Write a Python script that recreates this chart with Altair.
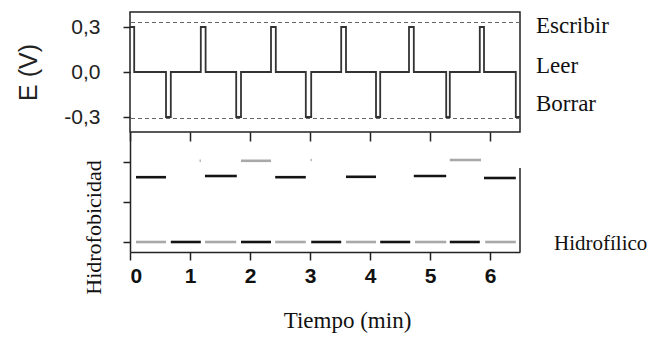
import altair as alt
import pandas as pd

# ---------------- data ----------------
# Applied potential E (V) vs time (min): breakpoints of the step signal
signal_time = [0.00, 0.07, 0.60, 0.68, 1.18, 1.26, 1.77, 1.85, 2.35, 2.43, 2.93, 3.02,
               3.52, 3.60, 4.10, 4.17, 4.65, 4.73, 5.27, 5.33, 5.83, 5.90, 6.43, 6.50]
signal_e = [0.3, 0.0, -0.3, 0.0, 0.3, 0.0, -0.3, 0.0, 0.3, 0.0, -0.3, 0.0,
            0.3, 0.0, -0.3, 0.0, 0.3, 0.0, -0.3, 0.0, 0.3, 0.0, -0.3, -0.3]
limit_levels = [0.33, -0.31]

state_names = ["Escribir", "Leer", "Borrar"]
state_levels = [0.3, 0.0, -0.3]

# Hydrophobicity read-out segments (time intervals in min, level in a.u.)
low_level = 0.0
light_low_start = [0.10, 1.25, 2.42, 3.60, 4.75, 5.92]
light_low_end = [0.60, 1.77, 2.93, 4.10, 5.27, 6.43]
dark_low_start = [0.68, 1.85, 3.02, 4.17, 5.33]
dark_low_end = [1.18, 2.35, 3.52, 4.67, 5.83]
dark_high_start = [0.10, 1.25, 2.42, 3.60, 4.73, 5.90]
dark_high_end = [0.60, 1.78, 2.93, 4.10, 5.27, 6.43]
dark_high_level = [1.62, 1.65, 1.62, 1.63, 1.65, 1.60]
light_high_start = [1.16, 1.85, 3.01, 5.33]
light_high_end = [1.18, 2.35, 3.03, 5.85]
light_high_level = [2.03, 2.03, 2.05, 2.05]

x_tick_values = [0, 0.5, 1, 1.5, 2, 2.5, 3, 3.5, 4, 4.5, 5, 5.5, 6, 6.5]
x_mid_tick_values = [0, 0.5, 1, 1.5, 2, 2.5, 3, 3.5, 4, 4.5, 5, 5.5, 6]
e_tick_values = [-0.3, -0.15, 0, 0.15, 0.3]
h_tick_values = [0, 0.5, 1, 1.5, 2, 2.5]

# ---------------- frames ----------------
sig_df = pd.DataFrame({"t": signal_time, "E": signal_e})
lim_df = pd.DataFrame({"lim": limit_levels})
states_df = pd.DataFrame({"state": state_names, "level": state_levels})

rows = []
for s, e in zip(light_low_start, light_low_end):
    rows.append({"start": s, "end": e, "level": low_level, "tone": "claro"})
for s, e in zip(dark_low_start, dark_low_end):
    rows.append({"start": s, "end": e, "level": low_level, "tone": "oscuro"})
for s, e, l in zip(dark_high_start, dark_high_end, dark_high_level):
    rows.append({"start": s, "end": e, "level": l, "tone": "oscuro"})
for s, e, l in zip(light_high_start, light_high_end, light_high_level):
    rows.append({"start": s, "end": e, "level": l, "tone": "claro"})
seg_df = pd.DataFrame(rows)
edge_df = pd.DataFrame({"edge": [6.5]})

INK = "#222222"
SANS = "Liberation Sans, Arial, Helvetica, sans-serif"
SERIF = "'Liberation Serif', 'Times New Roman', 'DejaVu Serif', serif"
W, H = 390, 120

x_scale = alt.Scale(domain=[0, 6.5], nice=False, zero=False)
minor_x = "datum.value % 1 != 0"

# ---------------- top panel ----------------
e_label_expr = ("abs(datum.value) > 0.1 && abs(datum.value) < 0.2 ? '' : "
                "replace(replace(format(datum.value, '.1f'), '.', ','), '\u2212', '-')")

signal = alt.Chart(sig_df).mark_line(interpolate="step-after", color="#333333", strokeWidth=1.8).encode(
    x=alt.X("t:Q", scale=x_scale,
            axis=alt.Axis(orient="bottom", values=x_mid_tick_values, labels=False, domain=False,
                          grid=False, title=None, tickColor=INK, tickWidth=1.5,
                          tickSize={"condition": {"test": minor_x, "value": 5}, "value": 9})),
    y=alt.Y("E:Q", scale=alt.Scale(domain=[-0.4, 0.4], nice=False, zero=False),
            axis=alt.Axis(values=e_tick_values, labelExpr=e_label_expr, labelFont=SANS,
                          labelFontSize=21, labelColor=INK, labelPadding=23, domain=False,
                          grid=False, tickColor=INK, tickWidth=1.5,
                          tickSize={"condition": {"test": "abs(datum.value) > 0.1 && abs(datum.value) < 0.2",
                                                  "value": 4}, "value": 7},
                          title="E (V)", titleFont=SANS, titleFontSize=25, titleFontWeight="normal",
                          titleColor=INK, titleAngle=-90, titleX=-102, titleY=60,
                          titleBaseline="middle", titleAlign="center")),
)

limits = alt.Chart(lim_df).mark_rule(color="#666666", strokeWidth=1, strokeDash=[4, 3]).encode(
    y="lim:Q"
)


def state_text(name, dy):
    return alt.Chart(states_df).transform_filter(alt.datum.state == name).mark_text(
        align="left", baseline="alphabetic", dx=16, dy=dy, font=SERIF, fontSize=23, color="#111111"
    ).encode(x=alt.datum(6.5), y="level:Q", text="state:N")


top = alt.layer(
    limits, signal,
    state_text("Escribir", 6), state_text("Leer", 1), state_text("Borrar", -6),
).properties(width=W, height=H, view=alt.ViewBackground(stroke=INK, strokeWidth=1.5))

# ---------------- bottom panel ----------------
x_label_expr = "datum.value % 1 == 0 ? format(datum.value, 'd') : ''"

segs = alt.Chart(seg_df).mark_rule(strokeWidth=2.6).encode(
    x=alt.X("start:Q", scale=x_scale,
            axis=alt.Axis(values=x_tick_values, labelExpr=x_label_expr, labelFont=SANS,
                          labelFontSize=21, labelFontWeight="bold", labelColor="#111111",
                          labelPadding=5, labelOverlap=False, grid=False,
                          domainColor=INK, domainWidth=1.5, tickColor=INK, tickWidth=1.5,
                          tickSize={"condition": {"test": minor_x, "value": 5}, "value": 8},
                          title="Tiempo (min)", titleFont=SERIF, titleFontSize=23,
                          titleFontWeight="normal", titleColor="#111111", titleX=217, titleY=75,
                          titleBaseline="alphabetic", titleAlign="center")),
    x2="end:Q",
    y=alt.Y("level:Q", scale=alt.Scale(domain=[-0.25, 2.75], nice=False, zero=False),
            axis=alt.Axis(values=h_tick_values, labels=False, grid=False,
                          domainColor=INK, domainWidth=1.5, tickColor=INK, tickWidth=1.5,
                          tickSize={"condition": {"test": minor_x, "value": 4}, "value": 7},
                          title="Hidrofobicidad", titleFont=SERIF, titleFontSize=22,
                          titleFontWeight="normal", titleColor="#111111", titleAngle=-90,
                          titleX=-36.5, titleY=95, titleBaseline="middle", titleAlign="center")),
    color=alt.Color("tone:N", scale=alt.Scale(domain=["oscuro", "claro"], range=["#141414", "#a9a9a9"]),
                    legend=None),
)

right_edge = alt.Chart(edge_df).mark_rule(color=INK, strokeWidth=1.5).encode(
    x="edge:Q", y=alt.datum(1.85), y2=alt.datum(-0.25)
)

hidrofilico = alt.Chart(edge_df).mark_text(
    align="left", baseline="alphabetic", dx=34, dy=8, font=SERIF, fontSize=21, color="#111111"
).encode(x="edge:Q", y=alt.datum(low_level), text=alt.value("Hidrofílico"))

bottom = alt.layer(segs, right_edge, hidrofilico).properties(width=W, height=H)

chart = alt.vconcat(top, bottom, spacing=0, bounds="flush").properties(
    padding={"left": 15, "top": 11, "right": 0, "bottom": 3}
).configure_view(stroke="transparent").configure_axis(grid=False)

chart.save("out.html", embed_options={"renderer": "svg", "actions": False})
